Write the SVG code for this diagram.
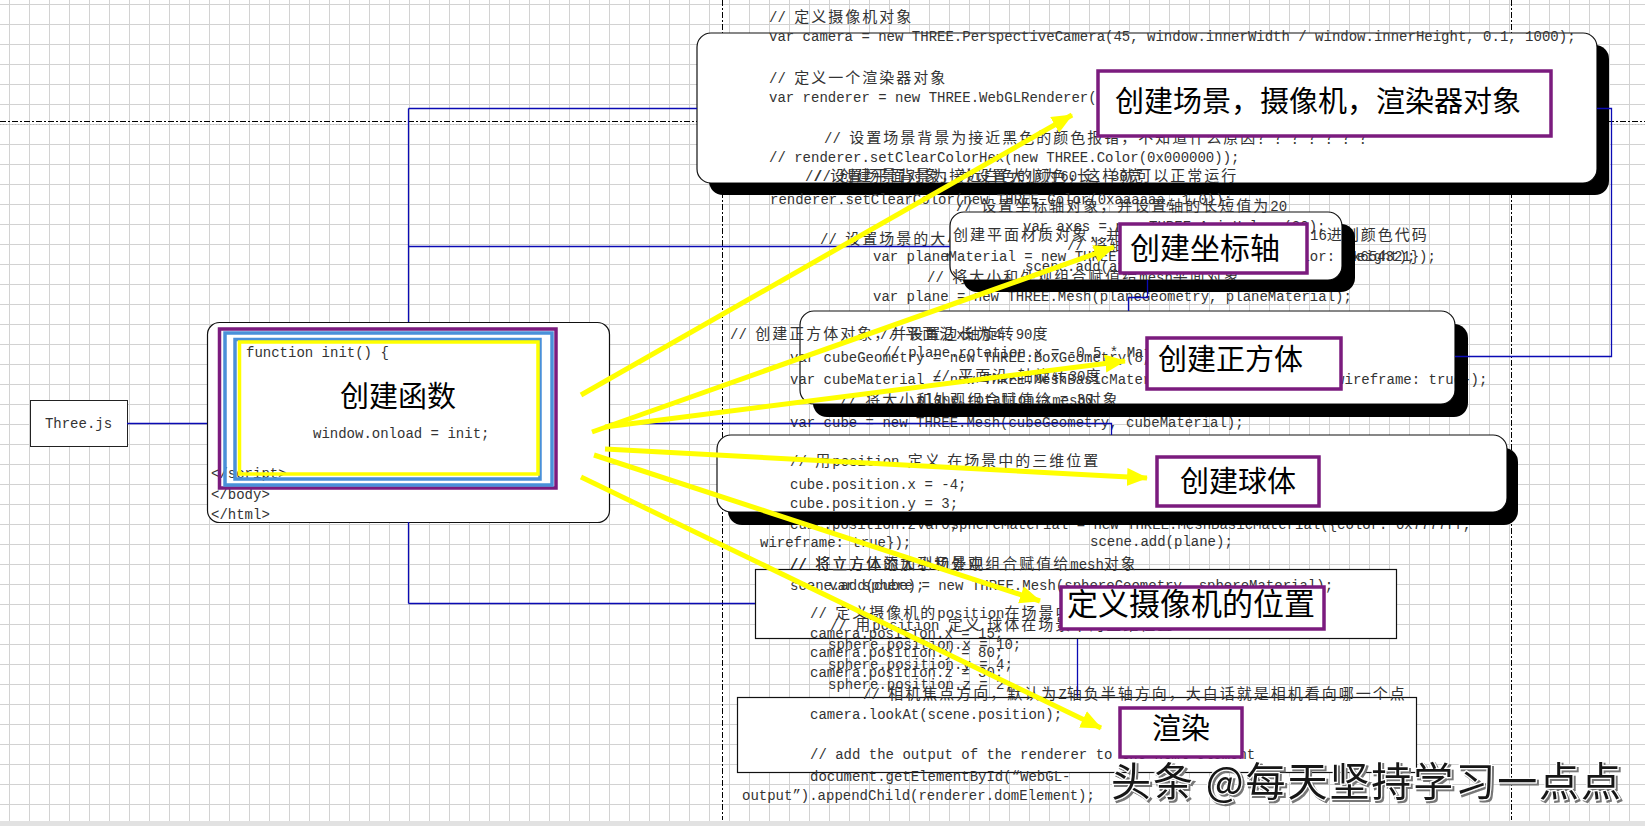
<svg xmlns="http://www.w3.org/2000/svg" width="1645" height="826" viewBox="0 0 1645 826">
<style>
.c{font-family:"Liberation Mono","Noto Sans CJK SC",monospace;font-size:14px;fill:#333}
.z{font-family:"Noto Sans CJK SC",sans-serif;font-size:15px;letter-spacing:2px}
.lb{font-family:"Noto Sans CJK SC","Noto Sans",sans-serif;fill:#000}
.rb{fill:#fff;stroke:#111;stroke-width:1.2}
.pl{fill:#fff;stroke:#7b1b7e;stroke-width:3.5}
.bl{fill:none;stroke:#0a0ab4;stroke-width:1.3}
.ya{fill:none;stroke:#ffff00;stroke-width:5;marker-end:url(#ah)}
.pg{stroke:#000;stroke-width:1;stroke-dasharray:6 2 2 2;fill:none}
</style>
<defs>
<pattern id="grid" width="20" height="20" patternUnits="userSpaceOnUse" x="9" y="4">
<path d="M0,0.5H20M0.5,0V20" stroke="#d2d2d2" stroke-width="1" fill="none"/>
</pattern>
<marker id="ah" markerUnits="userSpaceOnUse" markerWidth="24" markerHeight="20" refX="20" refY="9" orient="auto">
<path d="M0,0L21,9L0,18Z" fill="#ffff00"/>
</marker>
<mask id="m1" maskUnits="userSpaceOnUse" x="0" y="0" width="1645" height="826"><rect width="1645" height="826" fill="#fff"/><rect x="697" y="33" width="900" height="150" rx="14" fill="#000"/></mask>
<mask id="m2" maskUnits="userSpaceOnUse" x="0" y="0" width="1645" height="826"><rect width="1645" height="826" fill="#fff"/><rect x="950" y="212" width="392" height="68" rx="14" fill="#000"/></mask>
<mask id="m3" maskUnits="userSpaceOnUse" x="0" y="0" width="1645" height="826"><rect width="1645" height="826" fill="#fff"/><rect x="800" y="311" width="655" height="93" rx="14" fill="#000"/></mask>
<mask id="m4" maskUnits="userSpaceOnUse" x="0" y="0" width="1645" height="826"><rect width="1645" height="826" fill="#fff"/><rect x="717" y="435" width="790" height="77" rx="14" fill="#000"/></mask>
<filter id="ds" x="-5%" y="-20%" width="110%" height="140%"><feDropShadow dx="2" dy="2" stdDeviation="0.6" flood-color="#777"/></filter>
</defs>

<g id="page">
<rect width="1645" height="826" fill="#fff"/>
<rect width="1645" height="826" fill="url(#grid)"/>
<line class="pg" x1="0" y1="121.5" x2="1645" y2="121.5"/>
<line x1="0" y1="124.5" x2="1645" y2="124.5" stroke="#bbb" stroke-width="1" stroke-dasharray="1 2"/>
<line class="pg" x1="722.5" y1="0" x2="722.5" y2="820"/>
<line class="pg" x1="1511.5" y1="0" x2="1511.5" y2="820"/>
<rect x="0" y="821" width="1645" height="5" fill="#e2e2e2"/>
</g>

<g id="node-threejs">
<rect x="30.5" y="400.5" width="97" height="46" fill="#fff" stroke="#222" stroke-width="1"/>
<text class="c" x="78.5" y="428" text-anchor="middle">Three.js</text>
</g>

<g id="node-init">
<rect class="rb" x="207.5" y="322.5" width="402" height="200" rx="12"/>
<text class="c" x="246" y="357">function init() {</text>
<text class="lb" x="398" y="407" font-size="29" text-anchor="middle">创建函数</text>
<text class="c" x="313" y="438">window.onload = init;</text>
<text class="c" x="211" y="478">&lt;/script&gt;</text>
<text class="c" x="211" y="499">&lt;/body&gt;</text>
<text class="c" x="211" y="519">&lt;/html&gt;</text>
<rect x="219.5" y="329" width="336.5" height="159" fill="none" stroke="#7b1b7e" stroke-width="3.5"/>
<rect x="225" y="333" width="327" height="152" fill="none" stroke="#4a90d9" stroke-width="3.5"/>
<rect x="235" y="339.5" width="305" height="139.5" fill="none" stroke="#4a90d9" stroke-width="3.5"/>
<rect x="239.5" y="342" width="298.5" height="132" fill="none" stroke="#ffff00" stroke-width="3.5"/>
</g>

<g id="bg-code">
<text class="c" x="820" y="244">// <tspan class="z">设置场景的大小</tspan></text>
<text class="c" x="945" y="261">renderer.setSize(window.innerWidth, window.innerHeight);</text>
</g>

<g id="node-scene">
<rect class="rb" x="697" y="33" width="900" height="150" rx="14"/>
<text class="c" x="769" y="22">// <tspan class="z">定义摄像机对象</tspan></text>
<text class="c" x="769" y="41">var camera = new THREE.PerspectiveCamera(45, window.innerWidth / window.innerHeight, 0.1, 1000);</text>
<text class="c" x="769" y="83">// <tspan class="z">定义一个渲染器对象</tspan></text>
<text class="c" x="769" y="102">var renderer = new THREE.WebGLRenderer();</text>
<text class="c" x="824" y="143">// <tspan class="z">设置场景背景为接近黑色的颜色报错，不知道什么原因？？？？？？？</tspan></text>
<text class="c" x="769" y="162">// renderer.setClearColorHex(new THREE.Color(0x000000));</text>
<text class="c" x="805" y="181">// <tspan class="z">设置场景背景为接近白色的颜色，这样就可以正常运行</tspan></text>
<text class="c" x="814" y="181">// <tspan class="z">创建平面对象，并设置大小为</tspan>60<tspan class="z">长，</tspan>30<tspan class="z">宽</tspan></text>
<rect x="709" y="45" width="900" height="150" rx="14" fill="#000" mask="url(#m1)"/>
<rect class="pl" x="1098" y="71" width="453" height="65"/>
<text class="lb" x="1115" y="112" font-size="29">创建场景，摄像机，渲染器对象</text>
</g>

<g id="node-axes">
<rect class="rb" x="950" y="212" width="392" height="68" rx="14"/>
<text class="c" x="770" y="204">renderer.setClearColor(new THREE.Color(0xaaaaaa, 1.0));</text>
<text class="c" x="956" y="211">// <tspan class="z">设置坐标轴对象，并设置轴的长短值为</tspan>20</text>
<text class="c" x="1023" y="231">var axes = new THREE.AxisHelper(20);</text>
<text class="c" x="953" y="240"><tspan class="z">创建平面材质对象，并设置平面的颜色为随意的</tspan>16<tspan class="z">进制颜色代码</tspan></text>
<text class="c" x="1067" y="250">// <tspan class="z">将轴添加到场景中</tspan></text>
<text class="c" x="873" y="261">var planeMaterial = new THREE.MeshBasicMaterial({color: 0x654321});</text>
<text class="c" x="1025" y="271">scene.add(axes);</text>
<text class="c" x="927" y="282">// <tspan class="z">将大小和外观组合赋值给</tspan>mesh<tspan class="z">平面对象</tspan></text>
<text class="c" x="873" y="301">var plane = new THREE.Mesh(planeGeometry, planeMaterial);</text>
<rect x="963" y="224" width="392" height="68" rx="14" fill="#000" mask="url(#m2)"/>
<rect class="pl" x="1120" y="224" width="187" height="49"/>
<text class="lb" x="1130" y="259" font-size="30">创建坐标轴</text>
</g>

<g id="node-cube">
<rect class="rb" x="800" y="311" width="655" height="93" rx="14"/>
<text class="c" x="730" y="339">// <tspan class="z">创建正方体对象，并设置边长为</tspan>4</text>
<text class="c" x="880" y="339">// <tspan class="z">平面沿</tspan>x<tspan class="z">轴旋转</tspan>90<tspan class="z">度</tspan></text>
<text class="c" x="883" y="357">// plane.rotation.x = -0.5 * Math.PI;</text>
<text class="c" x="790" y="362">var cubeGeometry = new THREE.BoxGeometry(8, 8, 8);</text>
<text class="c" x="933" y="381">// <tspan class="z">平面沿</tspan>x<tspan class="z">轴旋转</tspan>30<tspan class="z">度</tspan></text>
<text class="c" x="790" y="384">var cubeMaterial = new THREE.MeshBasicMaterial({color: 0xff0000, wireframe: true});</text>
<text class="c" x="840" y="405">// <tspan class="z">将大小和外观组合赋值给</tspan>mesh<tspan class="z">对象</tspan></text>
<text class="c" x="917" y="404">plane.rotation.x = 30</text>
<text class="c" x="790" y="427">var cube = new THREE.Mesh(cubeGeometry, cubeMaterial);</text>
<rect x="813" y="324" width="655" height="93" rx="14" fill="#000" mask="url(#m3)"/>
<rect class="pl" x="1147" y="338" width="194" height="51"/>
<text class="lb" x="1158" y="370" font-size="29">创建正方体</text>
</g>

<g id="node-sphere">
<rect class="rb" x="717" y="435" width="790" height="77" rx="14"/>
<text class="c" x="790" y="466">// <tspan class="z">用</tspan>position <tspan class="z">定义 在场景中的三维位置</tspan></text>
<text class="c" x="790" y="489">cube.position.x = -4;</text>
<text class="c" x="790" y="508">cube.position.y = 3;</text>
<text class="c" x="790" y="529">cube.position.z = 0;</text>
<text class="c" x="917" y="529">var sphereMaterial = new THREE.MeshBasicMaterial({color: 0x7777ff,</text>
<text class="c" x="760" y="547">wireframe: true});</text>
<text class="c" x="1090" y="546">scene.add(plane);</text>
<rect x="728" y="448" width="790" height="77" rx="14" fill="#000" mask="url(#m4)"/>
<rect class="pl" x="1157" y="457" width="162" height="49"/>
<text class="lb" x="1180" y="492" font-size="29">创建球体</text>
</g>

<g id="node-camera-position">
<rect x="755.5" y="569.5" width="641" height="69" fill="#fff" stroke="#111" stroke-width="1.2"/>
<text class="c" x="790" y="569">// <tspan class="z">将立方体的大小和外观组合赋值给</tspan>mesh<tspan class="z">对象</tspan></text>
<text class="c" x="790" y="569">// <tspan class="z">将立方体添加到场景中</tspan></text>
<text class="c" x="790" y="590">scene.add(cube);</text>
<text class="c" x="829" y="590">var sphere = new THREE.Mesh(sphereGeometry, sphereMaterial);</text>
<text class="c" x="810" y="618">// <tspan class="z">定义摄像机的</tspan>position<tspan class="z">在场景中的位置</tspan></text>
<text class="c" x="830" y="630">// <tspan class="z">用</tspan>position <tspan class="z">定义 球体在场景中的三维位置</tspan></text>
<text class="c" x="810" y="638">camera.position.x = 15;</text>
<text class="c" x="828" y="649">sphere.position.x = 10;</text>
<text class="c" x="810" y="657">camera.position.y = 80;</text>
<text class="c" x="828" y="669">sphere.position.y = 4;</text>
<text class="c" x="810" y="677">camera.position.z = 30;</text>
<text class="c" x="828" y="689">sphere.position.z = 2;</text>
<rect class="pl" x="1061" y="587" width="263" height="42"/>
<text class="lb" x="1067" y="615" font-size="31">定义摄像机的位置</text>
</g>

<g id="node-render">
<rect x="737.5" y="697.5" width="679" height="75" fill="#fff" stroke="#111" stroke-width="1.2"/>
<text class="c" x="863" y="699">// <tspan class="z">相机焦点方向，默认为</tspan>Z<tspan class="z">轴负半轴方向，大白话就是相机看向哪一个点</tspan></text>
<text class="c" x="810" y="719">camera.lookAt(scene.position);</text>
<text class="c" x="810" y="759">// add the output of the renderer to the html element</text>
<text class="c" x="810" y="781">document.getElementById(“WebGL-</text>
<text class="c" x="742" y="800">output”).appendChild(renderer.domElement);</text>
<rect class="pl" x="1120" y="708" width="122" height="49"/>
<text class="lb" x="1181" y="739" font-size="29" text-anchor="middle">渲染</text>
</g>

<g id="connectors">
<path class="bl" d="M127,423.5H207"/>
<path class="bl" d="M408.5,108.5V322"/>
<path class="bl" d="M408.5,522V603.5"/>
<path class="bl" d="M408.5,108.5H697"/>
<path class="bl" d="M408.5,246.5H950"/>
<path class="bl" d="M408.5,603.5H755"/>
<path class="bl" d="M610,423.5H1111.5V435"/>
<path class="bl" d="M1597,108.5H1611.5V356.5H1455"/>
<path class="bl" d="M1147.5,280V297.5H1128.5V311"/>
<path class="bl" d="M1077.5,639V697"/>
<path class="ya" d="M581,395L1072,115"/>
<path class="ya" d="M592,432L1114,247"/>
<path class="ya" d="M605,427L1125,361"/>
<path class="ya" d="M605,449L1147,478"/>
<path class="ya" d="M594,455L1040,601"/>
<path class="ya" d="M581,477L1101,728"/>
</g>

<g id="watermark">
<text x="1111" y="796" font-family="Noto Sans CJK SC,sans-serif" font-size="40" textLength="510" fill="#151515" stroke="#fff" stroke-width="2.5" paint-order="stroke" filter="url(#ds)">头条 @每天坚持学习一点点</text>
</g>
</svg>
